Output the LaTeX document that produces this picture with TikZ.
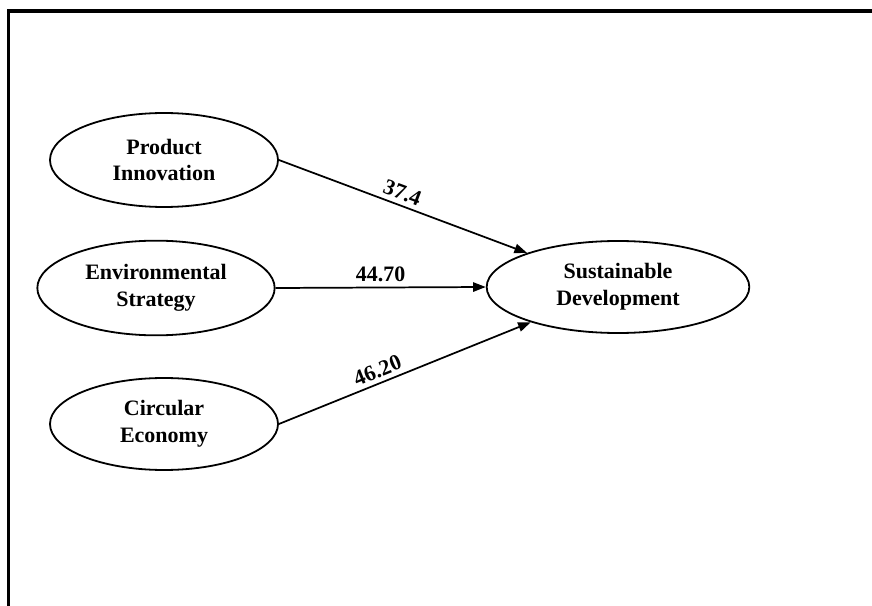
\documentclass[tikz,border=0pt]{standalone}
\usepackage{fontspec}
\setmainfont{Liberation Serif}
\usetikzlibrary{shapes.geometric,arrows.meta}
\tikzset{
 latent/.style={draw,ellipse,line width=1.35pt,inner sep=0pt,align=center,
  font=\fontsize{16.5}{20}\selectfont\bfseries},
 effect/.style={line width=1.3pt,-{Triangle[length=9.5pt,width=7pt]}},
 weight/.style={font=\fontsize{16.5}{20}\selectfont\bfseries,sloped,above}
}
\begin{document}
\begin{tikzpicture}[x=0.75pt,y=-0.75pt]
 \useasboundingbox (0,0) rectangle (872,606);
 % frame, cut off at right and bottom
 \draw[line width=2.5pt](8.5,606)--(8.5,11)--(872,11);
 \node[latent,minimum width=171pt,minimum height=70.5pt] (pi) at (164,160) {Product\\Innovation};
 \node[latent,minimum width=178pt,minimum height=71pt] (es) at (156,288) {Environmental\\Strategy};
 \node[latent,minimum width=171pt,minimum height=69pt] (ce) at (164,424) {Circular\\Economy};
 \node[latent,minimum width=197pt,minimum height=69pt] (sd) at (618,287) {Sustainable\\Development};
 \draw[effect](pi.east)--(sd) node[weight,pos=0.48]{37.4};
 \draw[effect](es.east)--(sd.west) node[weight,pos=0.5]{44.70};
 \draw[effect](ce.east)--(sd) node[weight,pos=0.41]{46.20};
\end{tikzpicture}
\end{document}
